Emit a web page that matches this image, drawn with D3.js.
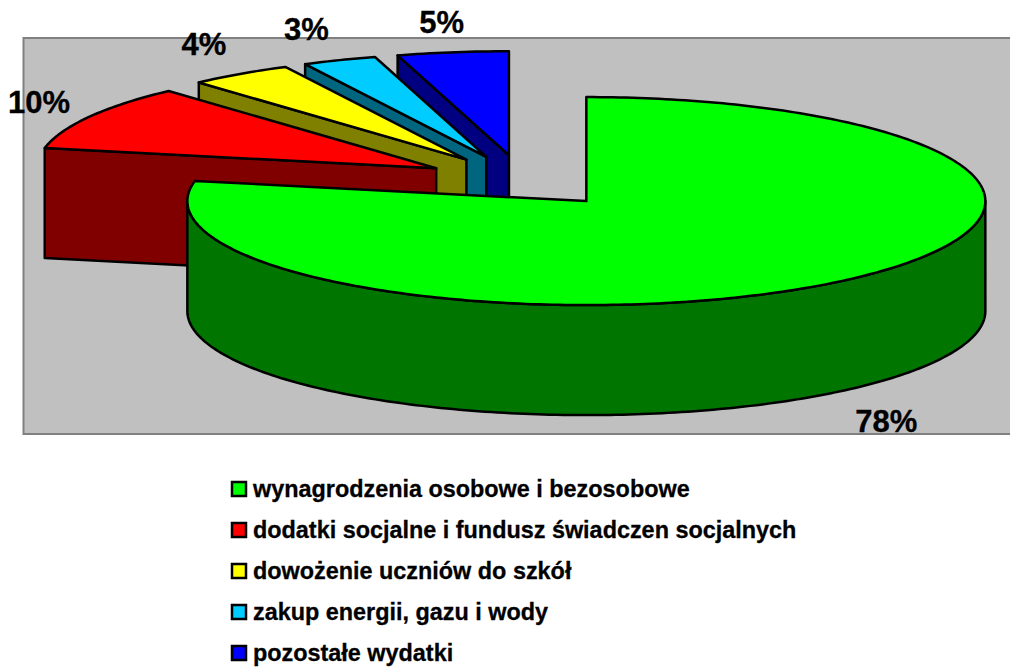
<!DOCTYPE html>
<html lang="pl">
<head>
<meta charset="utf-8">
<script src="https://d3js.org/d3.v7.min.js"></script>
<style type="text/css">
body {
	margin: 0;
	background: #fff;
}
svg {
	display: block;
}
text {
	font-family: "Liberation Sans", Arial, sans-serif;
	font-weight: bold;
	fill: #000;
	stroke: #000;
	stroke-width: 0.3px;
}
</style>
</head>
<body>
<script type="text/javascript">

// chart data
var categories = [
	"wynagrodzenia osobowe i bezosobowe",
	"dodatki socjalne i fundusz świadczen socjalnych",
	"dowożenie uczniów do szkół",
	"zakup energii, gazu i wody",
	"pozostałe wydatki"
];
var values = [78.1, 10.2, 4.2, 3.0, 4.5];
var labels = ["78%", "10%", "4%", "3%", "5%"];
var topColors = ["#00ff00", "#ff0000", "#ffff00", "#00ccff", "#0000ff"];
var wallColors = ["#007500", "#800000", "#808000", "#006680", "#000080"];

var width = 1010;
var height = 667;

// the 3D pie: an ellipse with a drop below it
var centerX = 523;
var centerY = 181;
var rx = 399;
var ry = 104;
var depth = 110;
var explode = 0.25;

var svg = d3.select("body")
	.append("svg")
	.attr("width", width)
	.attr("height", height);

// plot area, runs off the right side
svg.append("rect")
	.attr("x", 23.5)
	.attr("y", 38)
	.attr("width", width)
	.attr("height", 396)
	.attr("fill", "#c0c0c0")
	.attr("stroke", "#808080")
	.attr("stroke-width", 2);

var slices = d3.pie().sort(null).value(function(d) { return d; })(values);

var line = d3.line();

function midAngle(d) {
	return (d.startAngle + d.endAngle) / 2;
}

function sliceCenter(d) {
	var m = midAngle(d);
	return [centerX + explode * rx * Math.sin(m), centerY - explode * ry * Math.cos(m)];
}

function onEllipse(c, a, drop) {
	return [c[0] + rx * Math.sin(a), c[1] - ry * Math.cos(a) + (drop || 0)];
}

function arcPoints(c, a0, a1, drop) {
	var n = Math.max(2, Math.ceil(Math.abs(a1 - a0) * 60));
	return d3.range(n + 1).map(function(i) {
		return onEllipse(c, a0 + (a1 - a0) * i / n, drop);
	});
}

function drawPath(points, fill) {
	svg.append("path")
		.attr("d", line(points) + "Z")
		.attr("fill", fill)
		.attr("stroke", "#000")
		.attr("stroke-width", 2.5)
		.attr("stroke-linejoin", "round");
}

// back to front: blue, cyan, yellow, red, then the big green slice
d3.range(slices.length - 1, -1, -1).forEach(function(i) {
	var d = slices[i];
	var c = sliceCenter(d);

	// the cut wall that faces the viewer
	if (i > 0) {
		var p = onEllipse(c, d.startAngle);
		drawPath([c, p, [p[0], p[1] + depth], [c[0], c[1] + depth]], wallColors[i]);
	}

	// outer rim, only the front half of the ellipse shows
	var a0 = Math.max(d.startAngle, Math.PI / 2);
	var a1 = Math.min(d.endAngle, Math.PI * 3 / 2);
	if (a1 > a0) {
		drawPath(arcPoints(c, a0, a1).concat(arcPoints(c, a1, a0, depth)), wallColors[i]);
	}

	drawPath([c].concat(arcPoints(c, d.startAngle, d.endAngle)), topColors[i]);
});

// percent labels sit a bit outside the ellipse, small hand corrections after that
var labelNudge = [[6, 4], [5.5, 1], [0, -3], [-9.5, 0], [-2, 2]];

svg.selectAll("text.pct")
	.data(slices)
	.enter()
	.append("text")
	.attr("class", "pct")
	.attr("text-anchor", "middle")
	.attr("dy", ".36em")
	.style("font-size", "31px")
	.attr("x", function(d, i) {
		return sliceCenter(d)[0] + 1.16 * rx * Math.sin(midAngle(d)) + labelNudge[i][0];
	})
	.attr("y", function(d, i) {
		var front = Math.cos(midAngle(d)) < 0 ? depth : 0;
		return sliceCenter(d)[1] - 1.32 * ry * Math.cos(midAngle(d)) + front + labelNudge[i][1];
	})
	.text(function(d, i) { return labels[i]; });

// legend
var legendY = d3.scalePoint()
	.domain(categories)
	.range([489, 653]);

var legend = svg.selectAll("g.legend")
	.data(categories)
	.enter()
	.append("g")
	.attr("class", "legend")
	.attr("transform", function(d) { return "translate(232," + legendY(d) + ")"; });

legend.append("rect")
	.attr("x", 0)
	.attr("y", -7)
	.attr("width", 14)
	.attr("height", 14)
	.attr("fill", function(d, i) { return topColors[i]; })
	.attr("stroke", "#000")
	.attr("stroke-width", 2.5);

legend.append("text")
	.attr("x", 21)
	.attr("y", 8)
	.style("font-size", "23.4px")
	.text(function(d) { return d; });

</script>
</body>
</html>
